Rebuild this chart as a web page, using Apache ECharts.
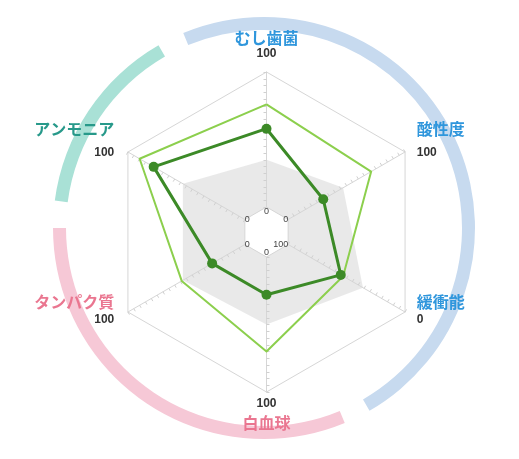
<!DOCTYPE html>
<html>
<head>
<meta charset="utf-8">
<script src="https://cdn.jsdelivr.net/npm/echarts@6/dist/echarts.min.js"></script>
<style>
  html, body { margin: 0; padding: 0; background: #fff; }
  #main { width: 519px; height: 459px; }
</style>
</head>
<body>
<div id="main"></div>
<script>
// axes, in ECharts radar order (top first, then counter-clockwise)
var indicators = ['むし歯菌', 'アンモニア', 'タンパク質', '白血球', '緩衝能', '酸性度'];
// 0: blue group, 1: pink group, 2: teal group
var indicatorGroup = [0, 2, 1, 1, 0, 0];
// value printed at the inner / outer end of each axis (緩衝能 runs backwards)
var innerEnd = [0, 0, 0, 0, 100, 0];
var outerEnd = [100, 100, 100, 100, 0, 100];

// readings on each axis's own scale
var referenceBand = [35, 53, 53, 50, 36, 47];
var standardLine = [76, 90, 54, 70, 53, 71];
var measured = [58, 78, 28, 28, 55, 30];

var groupText = ['#2f96dc', '#ea7690', '#27998a'];
var groupArc = ['#c7daef', '#f6c8d6', '#a9e1d6'];
var arcGap = 7.5;

function toAxis(values) {
    return values.map(function (v, i) {
        return (v - innerEnd[i]) / (outerEnd[i] - innerEnd[i]) * 100;
    });
}

function drawChart() {
    var chart = echarts.init(document.getElementById('main'));
    var n = indicators.length;

    // where the small end labels near the centre sit (top, UL, LL, bottom, LR, UR)
    var innerPlace = [
        { align: 'center', verticalAlign: 'top' },
        { align: 'left', verticalAlign: 'middle' },
        { align: 'left', verticalAlign: 'middle' },
        { align: 'center', verticalAlign: 'bottom' },
        { align: 'right', verticalAlign: 'middle' },
        { align: 'right', verticalAlign: 'middle' }
    ];
    // line heights of name / value / spacer in each axis name block
    var nameBlock = [
        { n: 16, v: 16, e: 0, valueFirst: false },
        { n: 12, v: 36, e: 0, valueFirst: false },
        { n: 18, v: 18, e: 12, valueFirst: false },
        { n: 34, v: 4, e: 0, valueFirst: true },
        { n: 18, v: 18, e: 12, valueFirst: false },
        { n: 12, v: 36, e: 0, valueFirst: false }
    ];
    var sidePad = [
        [0, 0, 0, 0], [0, 5, 0, 0], [0, 5, 0, 0],
        [0, 0, 0, 0], [0, 0, 0, 3], [0, 0, 0, 3]
    ];

    var rich = {};
    nameBlock.forEach(function (b, i) {
        rich['n' + i] = {
            fontSize: 16, fontWeight: 'bold', fontFamily: 'Noto Sans CJK JP',
            color: groupText[indicatorGroup[i]],
            lineHeight: b.n, padding: sidePad[i]
        };
        rich['v' + i] = {
            fontSize: 12, fontWeight: 'bold', fontFamily: 'Liberation Sans', color: '#333',
            lineHeight: b.v, padding: sidePad[i]
        };
        rich['e' + i] = { fontSize: 4, lineHeight: b.e };
    });

    var indicatorOpts = indicators.map(function (name, i) {
        return {
            name: name,
            idx: i,
            min: 0,
            max: 100,
            axisLabel: {
                show: true,
                fontSize: 9,
                fontFamily: 'Liberation Sans',
                color: '#444',
                margin: 0,
                align: innerPlace[i].align,
                verticalAlign: innerPlace[i].verticalAlign,
                formatter: function (v) { return v === 0 ? String(innerEnd[i]) : ''; }
            }
        };
    });

    // decorative group arcs, walking the axes clockwise from the top
    var step = 360 / n;
    var runs = [];
    for (var s = 0; s < n; s++) {
        var g = indicatorGroup[(n - s) % n];
        if (runs.length && runs[runs.length - 1].g === g) runs[runs.length - 1].c++;
        else runs.push({ g: g, c: 1 });
    }
    var arcData = [];
    runs.forEach(function (r) {
        arcData.push({ value: arcGap, itemStyle: { color: 'rgba(0,0,0,0)' } });
        arcData.push({ value: r.c * step - arcGap, itemStyle: { color: groupArc[r.g] } });
    });

    var splitColors = [];
    for (var k = 0; k < 20; k++) splitColors.push(k === 0 ? '#d6d6d6' : 'rgba(0,0,0,0)');

    var option = {
        animation: false,
        backgroundColor: '#fff',
        radar: {
            z: 2,
            center: [266.5, 232],
            radius: [25, 160],
            startAngle: 90,
            splitNumber: 20,
            shape: 'polygon',
            nameGap: 10,
            axisName: {
                formatter: function (name, ind) {
                    var i = ind.idx;
                    var b = nameBlock[i];
                    var nm = '{n' + i + '|' + name + '}';
                    var v = '{v' + i + '|' + outerEnd[i] + '}';
                    var str = b.valueFirst ? v + '\n' + nm : nm + '\n' + v;
                    if (b.e) str += '\n{e' + i + '| }';
                    return str;
                },
                rich: rich
            },
            axisLine: { lineStyle: { color: '#d6d6d6', width: 1 } },
            axisTick: { show: true, length: 3, lineStyle: { color: '#d0d0d0' } },
            splitLine: { lineStyle: { color: splitColors, width: 1 } },
            splitArea: { show: false },
            indicator: indicatorOpts
        },
        series: [
            {
                type: 'pie',
                z: 0,
                silent: true,
                center: [264, 228],
                radius: [198, 211],
                startAngle: 90 + step / 2,
                clockwise: true,
                label: { show: false },
                labelLine: { show: false },
                itemStyle: { borderWidth: 0 },
                data: arcData
            },
            {
                type: 'radar',
                z: 1,
                silent: true,
                symbol: 'none',
                lineStyle: { width: 0 },
                areaStyle: { color: '#e4e4e4', opacity: 0.8 },
                data: [{ value: toAxis(referenceBand) }]
            },
            {
                type: 'radar',
                z: 1,
                silent: true,
                symbol: 'none',
                lineStyle: { width: 0 },
                areaStyle: { color: '#ffffff', opacity: 1 },
                data: [{ value: toAxis(innerEnd) }]
            },
            {
                type: 'radar',
                z: 3,
                silent: true,
                symbol: 'none',
                lineStyle: { width: 2, color: '#8ccf4d' },
                data: [{ value: toAxis(standardLine) }]
            },
            {
                type: 'radar',
                z: 4,
                silent: true,
                symbol: 'circle',
                symbolSize: 10,
                itemStyle: { color: '#3c8a27' },
                lineStyle: { width: 3, color: '#3c8a27' },
                data: [{ value: toAxis(measured) }]
            }
        ]
    };

    chart.setOption(option);
}

document.addEventListener('DOMContentLoaded', function () {
    drawChart();
});
</script>
</body>
</html>
